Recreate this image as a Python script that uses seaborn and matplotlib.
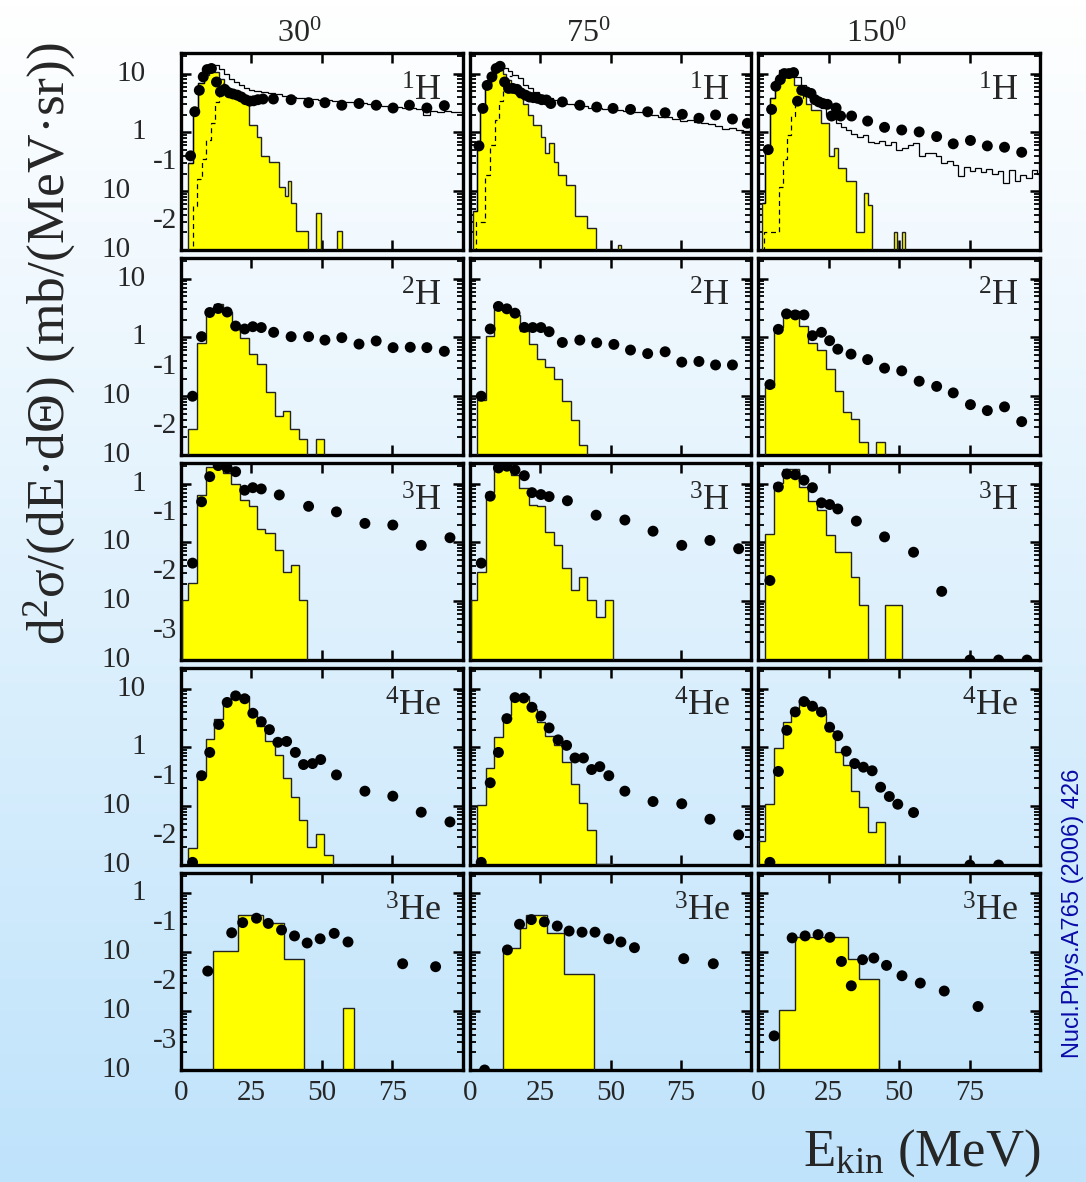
import numpy as np
import pandas as pd
import matplotlib
matplotlib.use("Agg")
import matplotlib.pyplot as plt
import seaborn as sns
from matplotlib.ticker import LogLocator, NullFormatter, FixedLocator, NullLocator
from matplotlib.colors import LinearSegmentedColormap

sns.set_theme(style="ticks")
plt.rcParams["font.family"] = ["Liberation Serif", "DejaVu Serif"]
plt.rcParams["mathtext.fontset"] = "custom"
plt.rcParams["mathtext.rm"] = "Liberation Serif"
plt.rcParams["mathtext.it"] = "Liberation Serif:italic"
plt.rcParams["mathtext.bf"] = "Liberation Serif:bold"

angles = ["30", "75", "150"]
particles = [("1", "H"), ("2", "H"), ("3", "H"), ("4", "He"), ("3", "He")]

# ---------------- 1H ----------------
p1H_30_edges = [2.6, 4.4, 6.2, 8.0, 9.8, 11.6, 13.4, 15.2, 17.0, 18.8, 20.8, 24.0, 27.0, 28.5,
                31.4, 34.7, 37.0, 38.0, 39.0, 40.8, 45.0, 47.9, 49.6, 55.5, 57.0]
p1H_30_calc = [0.3, 2.2, 6.8, 9.5, 11.5, 10.5, 8.0, 6.0, 4.8, 4.2, 3.5, 1.34, 0.85, 0.39,
               0.32, 0.12, 0.083, 0.148, 0.063, 0.021, 0, 0.043, 0, 0.021]
p1H_30_tot_edges = [2.6, 4.4, 6.2, 8.0, 9.8, 11.6, 13.4, 15.2, 17.0, 18.8, 20.6, 22.4, 24.2, 26.0,
                    28.5, 31, 33.5, 36, 38.5, 41, 43.5, 46, 48.5, 51, 53.5, 56, 58.5, 61, 63.5,
                    66, 68.5, 71, 73.5, 76, 78.5, 81, 83.5, 86, 88.5, 91, 93.5, 96, 98.5, 100]
p1H_30_tot = [0.3, 2.2, 7.0, 11.5, 13.8, 14.0, 12.2, 10.0, 8.2, 7.2, 6.3, 5.6, 5.3, 5.0, 4.8,
              4.6, 4.5, 4.2, 4.0, 3.9, 3.8, 3.7, 3.6, 3.5, 3.4, 3.35, 3.3, 3.25, 3.2, 3.1, 3.0,
              2.85, 2.75, 2.7, 2.65, 2.6, 2.55, 2.0, 2.3, 2.25, 2.3, 2.2, 2.25]
p1H_30_dash_edges = [2.0, 4.1, 5.8, 7.4, 8.9, 10.5, 12.0, 13.5, 15.0]
p1H_30_dash = [1e-6, 0.056, 0.16, 0.35, 0.75, 1.43, 3.3, 6.8]
p1H_30_E = [3.4, 4.9, 6.5, 7.9, 9.3, 10.8, 12.6, 14.0, 15.5, 17.1, 18.5, 20.0, 21.4, 22.9, 24.4,
            25.8, 27.3, 29.1, 32.8, 39.1, 45.3, 51.1, 57.1, 63.2, 69.3, 75.3, 81.1, 87.3, 93.5]
p1H_30_exp = [0.40, 2.25, 5.2, 8.8, 11.7, 12.2, 7.2, 4.9, 5.4, 4.7, 4.5, 4.3, 4.0, 3.6, 3.4,
              3.45, 3.6, 3.7, 3.7, 3.6, 3.2, 3.2, 2.9, 3.1, 2.9, 2.6, 2.9, 2.6, 2.85]

p1H_75_edges = [1.2, 2.6, 3.8, 5.6, 7.6, 9.2, 11.8, 12.9, 14.7, 17.1, 18.8, 20.6, 22.6, 25.3,
                26.8, 28.2, 29.8, 31.5, 34.1, 37.4, 41.8, 44.7, 52.7, 53.9]
p1H_75_calc = [0.046, 0.57, 2.4, 5.6, 9.4, 11.4, 10.0, 7.7, 5.5, 4.0, 3.1, 2.0, 1.34, 0.85,
               0.44, 0.66, 0.32, 0.19, 0.13, 0.038, 0.024, 0, 0.012]
p1H_75_tot_edges = [1.2, 2.6, 3.8, 5.6, 7.6, 9.2, 11.8, 13.5, 15.2, 17.0, 18.8, 20.6, 22.4, 24.5,
                    27, 29.5, 32, 34.5, 37, 39.5, 42, 44.5, 47, 49.5, 52, 54.5, 57, 59.5, 62,
                    64.5, 67, 69.5, 72, 74.5, 77, 79.5, 82, 84.5, 87, 89.5, 92, 94.5, 97, 100]
p1H_75_tot = [0.046, 0.57, 2.4, 6.0, 10.5, 13.8, 12.5, 11.0, 9.5, 8.3, 6.5, 5.6, 4.8, 4.3, 3.8,
              3.5, 3.2, 3.0, 2.9, 2.8, 2.65, 2.6, 2.5, 2.5, 2.4, 2.3, 2.25, 2.2, 2.1, 1.95, 1.85,
              1.8, 1.7, 1.55, 1.6, 1.5, 1.45, 1.4, 1.3, 1.15, 1.2, 1.1, 1.05]
p1H_75_dash_edges = [1.0, 2.4, 5.6, 7.3, 8.9, 10.4, 12.0, 13.5, 15.0]
p1H_75_dash = [1e-6, 0.03, 0.19, 0.6, 1.6, 3.4, 6.0, 9.0]
p1H_75_E = [3.3, 4.7, 6.2, 7.9, 9.4, 10.8, 12.4, 13.8, 15.3, 16.8, 18.2, 19.8, 21.2, 22.6, 24.1,
            25.6, 27.3, 28.8, 32.9, 39.1, 45.1, 50.9, 57.1, 63.2, 69.4, 75.5, 81.4, 87.3, 93.3, 98.6]
p1H_75_exp = [0.59, 2.56, 6.3, 8.8, 12.2, 13.3, 7.2, 5.6, 5.6, 5.4, 4.7, 4.3, 4.0, 3.9, 3.8,
              3.6, 3.55, 3.1, 3.3, 2.9, 2.7, 2.56, 2.46, 2.24, 2.16, 2.03, 1.74, 1.98, 1.69, 1.43]

p1H_150_edges = [1.3, 2.5, 4.1, 6.0, 7.4, 9.2, 11.5, 12.7, 15.1, 16.8, 18.6, 22.1, 25.1, 26.8,
                 28.4, 31.2, 34.5, 37.4, 38.9, 40.4, 48.0, 49.2, 50.9, 52.1]
p1H_150_calc = [0.063, 0.5, 3.8, 7.7, 10.0, 10.7, 8.8, 6.5, 5.2, 3.1, 2.4, 1.43, 0.39, 0.54,
                0.25, 0.148, 0.0205, 0.094, 0.059, 0, 0.02, 0, 0.02]
p1H_150_tot_edges = [1.3, 2.5, 4.1, 6.0, 7.4, 9.2, 11.5, 12.7, 15.1, 16.8, 18.6, 20.4, 22.1, 23.9,
                     25.6, 27.4, 29.2, 31.0, 33, 35, 37, 39, 41, 43, 45, 47, 49, 51, 53, 55, 57,
                     59, 61, 63, 65, 67, 69, 71, 73, 75, 77, 79, 81, 83, 85, 87, 89, 91, 93, 95,
                     97, 99, 100]
p1H_150_tot = [0.063, 0.5, 3.8, 8.0, 11.5, 12.2, 11.5, 8.8, 6.5, 5.2, 4.0, 3.3, 2.6, 2.0, 1.7,
               1.43, 1.25, 1.1, 0.95, 0.85, 0.9, 0.7, 0.66, 0.72, 0.6, 0.68, 0.5, 0.55, 0.62,
               0.66, 0.39, 0.45, 0.44, 0.4, 0.3, 0.33, 0.28, 0.18, 0.26, 0.22, 0.25, 0.21, 0.24,
               0.2, 0.22, 0.14, 0.23, 0.15, 0.19, 0.17, 0.23, 0.2]
p1H_150_dash_edges = [1.0, 2.0, 7.2, 8.6, 10.0, 11.5, 13.0, 14.5, 16.0, 17.5]
p1H_150_dash = [1e-6, 0.02, 0.12, 0.35, 0.9, 1.9, 3.3, 3.5, 4.5]
p1H_150_E = [3.5, 4.7, 6.2, 7.8, 9.2, 10.9, 12.5, 13.9, 15.4, 17.1, 18.7, 20.1, 21.5, 22.9, 24.5,
             26.0, 27.6, 29.2, 33.1, 38.8, 44.8, 50.9, 57.1, 63.3, 69.2, 75.3, 81.3, 87.4, 93.5]
p1H_150_exp = [0.51, 2.46, 6.1, 7.9, 10.0, 10.0, 10.4, 3.4, 5.2, 4.9, 4.6, 3.6, 3.3, 3.1, 3.0,
               1.9, 2.6, 1.9, 1.9, 1.56, 1.22, 1.1, 1.02, 0.85, 0.64, 0.73, 0.59, 0.56, 0.46]

# ---------------- 2H ----------------
p2H_30_edges = [2.6, 5.8, 8.8, 11.8, 14.9, 18.1, 20.8, 24.0, 26.9, 30.2, 33.2, 36.1, 38.7, 42.0,
                44.9, 47.9, 50.8]
p2H_30_calc = [0.0275, 0.79, 2.7, 3.7, 2.7, 1.62, 0.96, 0.53, 0.35, 0.118, 0.047, 0.056, 0.028,
               0.019, 0, 0.019]
p2H_30_E = [4.1, 7.3, 10.2, 13.2, 16.4, 19.4, 22.6, 25.5, 28.5, 32.9, 39.1, 45.3, 51.1, 57.1,
            63.2, 69.3, 75.3, 81.4, 87.3, 93.5]
p2H_30_exp = [0.1, 1.03, 2.65, 3.1, 2.7, 1.56, 1.39, 1.52, 1.47, 1.22, 1.03, 1.03, 0.9, 0.99,
              0.77, 0.87, 0.67, 0.68, 0.67, 0.58]

p2H_75_edges = [2.6, 5.9, 8.8, 11.8, 14.7, 18.0, 20.9, 23.8, 26.8, 30.0, 32.9, 35.9, 38.8, 41.8,
                44.7]
p2H_75_calc = [0.085, 1.07, 3.0, 2.9, 2.4, 1.3, 0.76, 0.43, 0.31, 0.2, 0.082, 0.039, 0.0147,
               0.0101]
p2H_75_E = [4.1, 7.3, 10.2, 13.2, 16.1, 19.4, 22.4, 25.3, 28.2, 32.9, 39.1, 45.1, 51.2, 57.1,
            63.2, 69.4, 75.3, 81.4, 87.3, 93.3]
p2H_75_exp = [0.10, 1.39, 3.36, 3.06, 2.58, 1.48, 1.47, 1.47, 1.25, 0.82, 0.9, 0.81, 0.76, 0.61,
              0.53, 0.57, 0.38, 0.39, 0.34, 0.34]

p2H_150_edges = [2.5, 5.6, 8.6, 14.5, 17.8, 20.7, 23.9, 27.2, 30.1, 32.9, 35.9, 38.9, 41.9, 44.8]
p2H_150_calc = [0.143, 1.52, 2.83, 1.58, 0.79, 0.61, 0.286, 0.125, 0.055, 0.041, 0.017, 0,
                0.017]
p2H_150_E = [4.1, 7.1, 10.0, 13.1, 16.2, 19.2, 22.4, 25.3, 28.2, 32.9, 38.8, 44.8, 50.9, 57.1,
             63.3, 69.2, 75.3, 81.3, 87.4, 93.5]
p2H_150_exp = [0.158, 1.37, 2.51, 2.41, 2.41, 1.07, 1.22, 0.88, 0.63, 0.52, 0.42, 0.30, 0.27,
               0.18, 0.147, 0.114, 0.072, 0.057, 0.066, 0.037]

# ---------------- 3H ----------------
p3H_30_edges = [0.3, 2.6, 5.8, 8.8, 11.8, 14.9, 17.9, 20.8, 24.0, 26.9, 30.0, 33.2, 36.1, 39.1,
                42.0, 44.9]
p3H_30_calc = [0.0103, 0.0205, 0.64, 1.94, 1.94, 1.49, 1.0, 0.53, 0.41, 0.168, 0.147, 0.073,
               0.031, 0.041, 0.0103]
p3H_30_E = [4.1, 7.3, 10.2, 13.2, 16.4, 19.4, 22.6, 25.5, 28.5, 34.9, 45.3, 55.2, 65.3, 75.2,
            85.3, 95.5]
p3H_30_exp = [0.0444, 0.49, 1.31, 2.02, 1.84, 1.59, 0.77, 0.85, 0.81, 0.64, 0.41, 0.33, 0.21,
              0.197, 0.089, 0.12]

p3H_75_edges = [0.3, 2.6, 5.9, 8.8, 11.8, 14.7, 17.6, 20.9, 23.8, 26.8, 30.0, 32.9, 35.9, 38.8,
                41.8, 44.9, 47.9, 50.9]
p3H_75_calc = [0.0103, 0.0314, 0.73, 2.16, 1.89, 1.41, 0.85, 0.44, 0.41, 0.151, 0.089, 0.036,
               0.0158, 0.026, 0.0105, 0.0053, 0.0105]
p3H_75_E = [4.1, 7.3, 10.2, 13.2, 16.1, 19.4, 22.1, 25.3, 28.2, 34.7, 44.9, 55.1, 65.1, 75.3,
            85.3, 95.5]
p3H_75_exp = [0.0444, 0.61, 1.84, 1.97, 1.70, 1.36, 0.70, 0.65, 0.60, 0.51, 0.29, 0.24, 0.155,
              0.089, 0.108, 0.078]

p3H_150_edges = [2.5, 5.6, 8.6, 14.5, 17.8, 20.7, 23.9, 27.2, 32.9, 35.9, 38.9, 45.0, 50.9]
p3H_150_calc = [0.141, 1.04, 1.77, 0.875, 0.51, 0.36, 0.136, 0.068, 0.0257, 0.0087, 0, 0.0087]
p3H_150_E = [4.1, 7.1, 10.1, 13.1, 16.2, 19.2, 22.4, 25.3, 28.2, 34.8, 44.8, 55.1, 65.1, 75.1,
             85.3, 95.4]
p3H_150_exp = [0.0225, 0.875, 1.45, 1.41, 1.14, 0.85, 0.47, 0.44, 0.37, 0.23, 0.124, 0.068,
               0.0147, 0.001, 0.001, 0.001]

# ---------------- 4He ----------------
p4He_30_edges = [2.6, 5.8, 8.8, 11.8, 14.9, 17.9, 24.0, 26.9, 30.0, 33.2, 36.1, 39.1, 42.0, 44.9,
                 47.9, 50.8, 53.8, 60.2]
p4He_30_calc = [0.0198, 0.33, 1.38, 3.08, 6.3, 7.6, 4.2, 2.3, 1.29, 0.755, 0.30, 0.144, 0.058,
                0.02, 0.034, 0.0146, 0.0102]
p4He_30_E = [4.1, 7.3, 10.2, 13.4, 16.4, 19.4, 22.6, 25.5, 28.5, 31.4, 34.4, 37.5, 40.6, 43.5,
             46.7, 49.6, 55.2, 65.3, 75.2, 85.3, 95.5]
p4He_30_exp = [0.0111, 0.33, 0.82, 2.45, 5.8, 7.5, 6.7, 3.8, 2.73, 2.0, 1.22, 1.26, 0.82, 0.51,
               0.53, 0.62, 0.34, 0.18, 0.148, 0.079, 0.054]

p4He_75_edges = [2.6, 5.9, 8.8, 11.8, 14.7, 20.9, 23.8, 26.8, 30.0, 32.9, 35.9, 38.8, 41.8, 44.7,
                 50.9]
p4He_75_calc = [0.105, 0.45, 1.49, 3.5, 7.5, 4.5, 2.7, 1.58, 1.1, 0.56, 0.24, 0.113, 0.04,
                0.0103]
p4He_75_E = [4.1, 7.3, 10.2, 13.2, 16.1, 19.2, 22.1, 25.3, 28.2, 31.4, 34.4, 37.4, 40.4, 43.3,
             46.2, 49.4, 55.1, 65.1, 75.3, 85.3, 95.5]
p4He_75_exp = [0.0111, 0.25, 0.82, 3.08, 7.0, 6.9, 4.8, 3.4, 2.14, 1.34, 1.08, 0.66, 0.66, 0.42,
               0.47, 0.33, 0.18, 0.12, 0.11, 0.060, 0.0325]

p4He_150_edges = [0.0, 2.5, 5.6, 8.6, 11.5, 14.5, 18.0, 20.7, 23.9, 27.1, 30.0, 32.9, 35.9, 38.9,
                  41.9, 44.8, 49.2]
p4He_150_calc = [0.026, 0.108, 0.96, 2.7, 4.6, 6.5, 5.1, 3.9, 1.88, 0.84, 0.50, 0.18, 0.096,
                 0.036, 0.054, 0.0101]
p4He_150_E = [4.1, 7.1, 10.1, 13.1, 16.2, 19.2, 22.4, 25.3, 28.2, 31.2, 34.2, 37.3, 40.4, 43.4,
              46.5, 49.5, 55.1, 75.1, 85.3]
p4He_150_exp = [0.0111, 0.39, 1.95, 4.0, 6.0, 5.0, 4.0, 2.2, 1.58, 0.86, 0.53, 0.46, 0.40, 0.21,
                0.146, 0.108, 0.078, 0.01, 0.01]

# ---------------- 3He ----------------
p3He_30_edges = [11.3, 20.1, 29.0, 36.7, 43.8, 57.5, 61.5]
p3He_30_calc = [0.104, 0.43, 0.32, 0.078, 0, 0.0114]
p3He_30_E = [9.5, 18.0, 21.9, 26.8, 31.0, 35.7, 40.3, 44.8, 49.4, 54.4, 59.3, 78.7, 90.4]
p3He_30_exp = [0.048, 0.215, 0.32, 0.38, 0.31, 0.24, 0.19, 0.144, 0.17, 0.21, 0.15, 0.064,
               0.057]

p3He_75_edges = [11.7, 17.7, 20.1, 27.5, 33.5, 44.1]
p3He_75_calc = [0.117, 0.26, 0.43, 0.215, 0.043]
p3He_75_E = [5.3, 13.4, 17.7, 21.9, 26.5, 31.1, 35.3, 39.9, 44.5, 49.4, 53.7, 58.5, 76.0, 86.5]
p3He_75_exp = [0.001, 0.11, 0.30, 0.36, 0.33, 0.28, 0.23, 0.22, 0.22, 0.17, 0.15, 0.12, 0.078,
               0.064]

p3He_150_edges = [7.4, 13.0, 32.0, 35.7, 42.7]
p3He_150_calc = [0.0105, 0.18, 0.078, 0.035]
p3He_150_E = [5.6, 12.0, 16.6, 21.2, 25.4, 29.5, 33.0, 37.0, 41.0, 45.5, 51.0, 57.5, 66.0, 78.0]
p3He_150_exp = [0.0038, 0.176, 0.19, 0.2, 0.18, 0.07, 0.027, 0.075, 0.08, 0.06, 0.04, 0.03,
                0.022, 0.012]

panels = {
    (0, 0): (p1H_30_edges, p1H_30_calc, p1H_30_E, p1H_30_exp),
    (0, 1): (p1H_75_edges, p1H_75_calc, p1H_75_E, p1H_75_exp),
    (0, 2): (p1H_150_edges, p1H_150_calc, p1H_150_E, p1H_150_exp),
    (1, 0): (p2H_30_edges, p2H_30_calc, p2H_30_E, p2H_30_exp),
    (1, 1): (p2H_75_edges, p2H_75_calc, p2H_75_E, p2H_75_exp),
    (1, 2): (p2H_150_edges, p2H_150_calc, p2H_150_E, p2H_150_exp),
    (2, 0): (p3H_30_edges, p3H_30_calc, p3H_30_E, p3H_30_exp),
    (2, 1): (p3H_75_edges, p3H_75_calc, p3H_75_E, p3H_75_exp),
    (2, 2): (p3H_150_edges, p3H_150_calc, p3H_150_E, p3H_150_exp),
    (3, 0): (p4He_30_edges, p4He_30_calc, p4He_30_E, p4He_30_exp),
    (3, 1): (p4He_75_edges, p4He_75_calc, p4He_75_E, p4He_75_exp),
    (3, 2): (p4He_150_edges, p4He_150_calc, p4He_150_E, p4He_150_exp),
    (4, 0): (p3He_30_edges, p3He_30_calc, p3He_30_E, p3He_30_exp),
    (4, 1): (p3He_75_edges, p3He_75_calc, p3He_75_E, p3He_75_exp),
    (4, 2): (p3He_150_edges, p3He_150_calc, p3He_150_E, p3He_150_exp),
}
proton_totals = {
    0: (p1H_30_tot_edges, p1H_30_tot, p1H_30_dash_edges, p1H_30_dash),
    1: (p1H_75_tot_edges, p1H_75_tot, p1H_75_dash_edges, p1H_75_dash),
    2: (p1H_150_tot_edges, p1H_150_tot, p1H_150_dash_edges, p1H_150_dash),
}

# lowest labelled decade of each row
row_lows = [-2, -2, -3, -2, -3]
FLOOR = 1e-7

W, H = 1086, 1182
fig = plt.figure(figsize=(W / 100, H / 100), dpi=100)

# soft vertical gradient behind everything
bg = fig.add_axes([0, 0, 1, 1], zorder=-10)
grad_cmap = LinearSegmentedColormap.from_list("bgfade", ["#ffffff", "#bfe3fb"])
bg.imshow(np.linspace(0, 1, 256)[:, None], cmap=grad_cmap, aspect="auto",
          extent=[0, 1, 0, 1], origin="upper")
bg.set_axis_off()

gs = fig.add_gridspec(5, 3, left=181 / W, right=1040 / W, top=1 - 53 / H,
                      bottom=1 - 1070 / H, wspace=0.025, hspace=0.04)

TICK_FS = 21
for r in range(5):
    low = row_lows[r]
    ylim = (10.0 ** low, 10.0 ** (low + 3.35))
    for c in range(3):
        ax = fig.add_subplot(gs[r, c])
        ax.set_facecolor("none")
        ax.set_yscale("log")
        ax.set_xlim(0, 100)
        ax.set_ylim(*ylim)

        edges, calc, E, exp = panels[(r, c)]
        vals = np.where(np.asarray(calc) > 0, calc, FLOOR)
        ax.stairs(vals, edges, fill=True, baseline=FLOOR, color="#ffff00", zorder=2)
        ax.stairs(vals, edges, fill=False, baseline=FLOOR, color="#222222", lw=1.0, zorder=3)

        if r == 0:
            te, tv, de, dv = proton_totals[c]
            ax.stairs(tv, te, baseline=None, color="black", lw=0.9, zorder=3)
            ax.stairs(dv, de, baseline=None, color="black", lw=0.9, ls=(0, (4, 3)), zorder=3)

        df = pd.DataFrame({"E": E, "y": exp})
        sns.scatterplot(data=df, x="E", y="y", ax=ax, color="black", s=62,
                        edgecolor="none", legend=False, zorder=5)
        ax.set_xlabel("")
        ax.set_ylabel("")

        # frame and ticks
        for sp in ax.spines.values():
            sp.set_linewidth(2.4)
            sp.set_color("black")
            sp.set_visible(True)
        ax.xaxis.set_major_locator(FixedLocator([0, 25, 50, 75]))
        ax.xaxis.set_minor_locator(NullLocator())
        ax.yaxis.set_major_locator(LogLocator(base=10, numticks=12))
        ax.yaxis.set_minor_locator(LogLocator(base=10, subs=np.arange(2, 10), numticks=12))
        ax.yaxis.set_major_formatter(NullFormatter())
        ax.yaxis.set_minor_formatter(NullFormatter())
        ax.tick_params(which="both", direction="in", top=True, bottom=True, left=True,
                       right=True, color="black")
        ax.tick_params(which="major", length=7.5, width=1.8)
        ax.tick_params(which="minor", length=4.0, width=1.3)
        if r == 4:
            ax.set_xticklabels(["0", "25", "50", "75"], fontsize=TICK_FS)
            ax.tick_params(axis="x", pad=7)
        else:
            ax.set_xticklabels([])

        # nucleus label
        mass, sym = particles[r]
        ax.text(0.925, 0.755, rf"$^{{{mass}}}$" + sym, transform=ax.transAxes,
                ha="right", va="baseline", fontsize=26)

        if r == 0:
            ax.text(0.42, 1.058, rf"{angles[c]}$^{{0}}$", transform=ax.transAxes,
                    ha="center", va="baseline", fontsize=23)

        # decade labels on the left column
        if c == 0:
            tr = ax.get_yaxis_transform()
            for k in range(low, low + 4):
                v = 10.0 ** k
                if k == 1:
                    ax.text(-0.125, v, "10", transform=tr, ha="right", va="center",
                            fontsize=TICK_FS)
                elif k == 0:
                    ax.text(-0.125, v, "1", transform=tr, ha="right", va="center",
                            fontsize=TICK_FS)
                else:
                    ax.text(-0.18, v, "10", transform=tr, ha="right", va="center",
                            fontsize=TICK_FS)
                    ax.text(-0.10, v * 10 ** 0.5, str(k), transform=tr, ha="left",
                            va="center", fontsize=TICK_FS)

fig.text(50 / W, 1 - 42 / H, "d$^{2}$σ/(dE·dΘ) (mb/(MeV·sr))", rotation=90,
         ha="center", va="top", fontsize=38.5)
fig.text(1040 / W, 1 - 1166 / H, r"E$_{\rm kin}$ (MeV)", ha="right", va="baseline",
         fontsize=38)
fig.text(1073 / W, 1 - 1058 / H, "Nucl.Phys.A765 (2006) 426", rotation=90, ha="center",
         va="bottom", fontsize=17, color="#0a0aa8", family=["Liberation Sans", "DejaVu Sans"])

fig.savefig("out.png", dpi=100)
